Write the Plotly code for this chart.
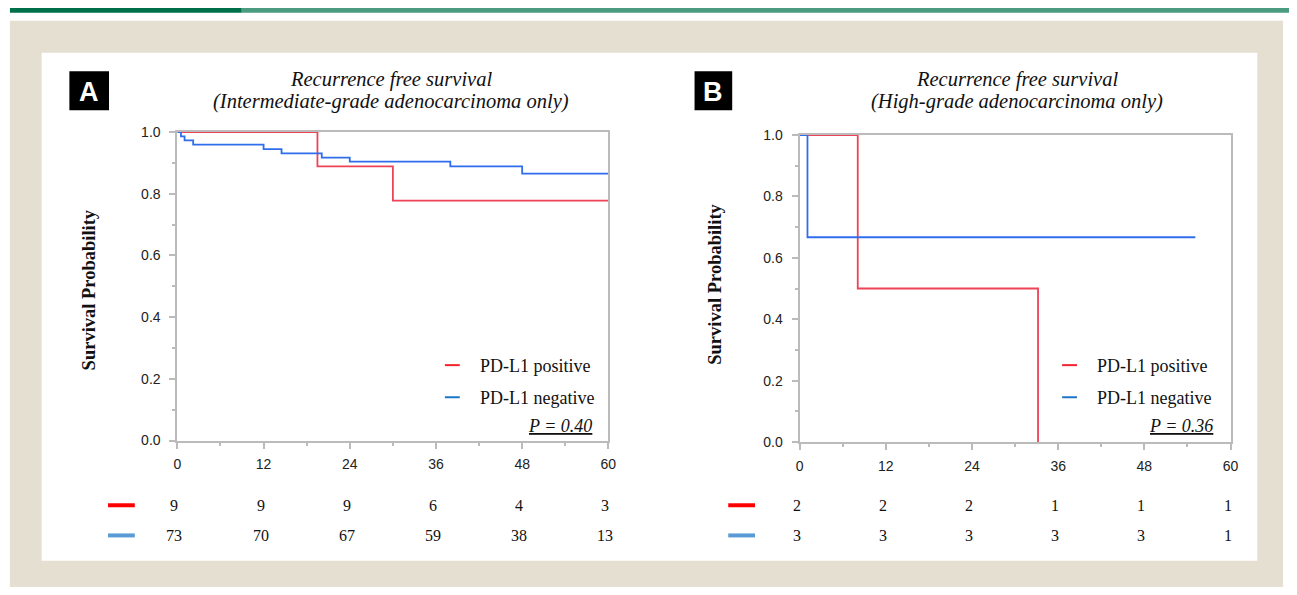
import plotly.graph_objects as go

W, H = 1297, 595

# ---------------- data ----------------
# Panel A: intermediate-grade
a_pos_t = [0, 19.5, 30.0, 60]
a_pos_s = [1.0, 0.889, 0.778, 0.778]
a_neg_t = [0, 0.5, 1.0, 2.2, 12.0, 14.5, 20.1, 24.0, 38.0, 48.0, 60]
a_neg_s = [1.0, 0.986, 0.973, 0.959, 0.945, 0.931, 0.917, 0.904, 0.889, 0.865, 0.865]
# Panel B: high-grade
b_pos_t = [0, 8.1, 33.2]
b_pos_s = [1.0, 0.5, 0.0]
b_neg_t = [0, 1.1, 55.1]
b_neg_s = [1.0, 0.667, 0.667]

risk_times = [0, 12, 24, 36, 48, 60]
a_risk_pos = [9, 9, 9, 6, 4, 3]
a_risk_neg = [73, 70, 67, 59, 38, 13]
b_risk_pos = [2, 2, 2, 1, 1, 1]
b_risk_neg = [3, 3, 3, 3, 3, 1]

x_ticks = [0, 12, 24, 36, 48, 60]
y_ticks = [0.0, 0.2, 0.4, 0.6, 0.8, 1.0]
y_ticklabels = ["0.0", "0.2", "0.4", "0.6", "0.8", "1.0"]

titles_a = ["Recurrence free survival", "(Intermediate-grade adenocarcinoma only)"]
titles_b = ["Recurrence free survival", "(High-grade adenocarcinoma only)"]
legend_labels = ["PD-L1 positive", "PD-L1 negative"]
p_a = "P = 0.40"
p_b = "P = 0.36"

# ---------------- styles ----------------
RED = "#EE4257"
BLUE = "#2F6DEA"
LEG_RED = "#F5222D"
LEG_BLUE = "#1C75C8"
RISK_RED = "#FF0000"
RISK_BLUE = "#5B9BD5"
AX = "#BBBBBB"
BEIGE = "#E5DFD2"
SERIF = "Liberation Serif, Times New Roman, serif"
SANS = "Liberation Sans, Arial, sans-serif"


def px(x):
    return x / W


def py(y):
    return 1 - y / H


fig = go.Figure()

fig.add_trace(go.Scatter(x=a_pos_t, y=a_pos_s, mode="lines", line=dict(color=RED, width=1.8, shape="hv"),
                         xaxis="x", yaxis="y", showlegend=False, hoverinfo="skip"))
fig.add_trace(go.Scatter(x=a_neg_t, y=a_neg_s, mode="lines", line=dict(color=BLUE, width=1.8, shape="hv"),
                         xaxis="x", yaxis="y", showlegend=False, hoverinfo="skip"))
fig.add_trace(go.Scatter(x=b_pos_t, y=b_pos_s, mode="lines", line=dict(color=RED, width=1.8, shape="hv"),
                         xaxis="x2", yaxis="y2", showlegend=False, hoverinfo="skip"))
fig.add_trace(go.Scatter(x=b_neg_t, y=b_neg_s, mode="lines", line=dict(color=BLUE, width=1.8, shape="hv"),
                         xaxis="x2", yaxis="y2", showlegend=False, hoverinfo="skip"))


def xax(domain, anchor):
    return dict(domain=domain, range=[0, 60], anchor=anchor, tickmode="array", tickvals=x_ticks,
                ticks="outside", ticklen=6, tickwidth=1.5, tickcolor=AX, showline=True, linecolor=AX,
                linewidth=2, mirror=True, showgrid=False, zeroline=False, ticklabelstandoff=4,
                tickfont=dict(family=SANS, size=14, color="#222"),
                minor=dict(tickmode="array", tickvals=[6, 18, 30, 42, 54], ticks="outside", ticklen=3,
                           tickcolor=AX, tickwidth=1.5, showgrid=False))


def yax(domain, anchor):
    return dict(domain=domain, range=[0, 1], anchor=anchor, tickmode="array", tickvals=y_ticks,
                ticktext=y_ticklabels, ticks="outside", ticklen=6, tickwidth=1.5, tickcolor=AX,
                showline=True, linecolor=AX, linewidth=2, mirror=True, showgrid=False, zeroline=False,
                ticklabelstandoff=6, tickfont=dict(family=SANS, size=14, color="#222"),
                minor=dict(tickmode="array", tickvals=[0.1, 0.3, 0.5, 0.7, 0.9], ticks="outside",
                           ticklen=3, tickcolor=AX, tickwidth=1.5, showgrid=False))


shapes = [
    dict(type="rect", xref="paper", yref="paper", x0=px(6), x1=px(1291), y0=py(595), y1=py(13),
         fillcolor=BEIGE, line=dict(width=0), layer="below"),
    dict(type="rect", xref="paper", yref="paper", x0=px(38), x1=px(1265), y0=py(568), y1=py(46),
         fillcolor="white", line=dict(width=0), layer="below"),
    dict(type="rect", xref="paper", yref="paper", x0=px(6), x1=px(240), y0=py(5), y1=py(0),
         fillcolor="#00704A", line=dict(width=0)),
    dict(type="rect", xref="paper", yref="paper", x0=px(240), x1=px(1297), y0=py(5), y1=py(0),
         fillcolor="#4A9B7F", line=dict(width=0)),
    # panel letter boxes
    dict(type="rect", xref="paper", yref="paper", x0=px(66), x1=px(106), y0=py(105), y1=py(65),
         fillcolor="black", line=dict(width=0)),
    dict(type="rect", xref="paper", yref="paper", x0=px(697), x1=px(735), y0=py(105), y1=py(65),
         fillcolor="black", line=dict(width=0)),
]

annotations = []


def text(x, y, s, size, family=SERIF, color="#111", xanchor="center", italic=False, bold=False, angle=0):
    if italic:
        s = "<i>" + s + "</i>"
    if bold:
        s = "<b>" + s + "</b>"
    annotations.append(dict(xref="paper", yref="paper", x=px(x), y=py(y), text=s, showarrow=False,
                            xanchor=xanchor, yanchor="middle", textangle=angle,
                            font=dict(family=family, size=size, color=color)))


# panel letters
text(86, 86, "A", 27, family=SANS, color="white", bold=True)
text(716, 86, "B", 27, family=SANS, color="white", bold=True)

# titles
text(391, 73, titles_a[0], 20.5, italic=True)
text(391, 96, titles_a[1], 20.5, italic=True)
text(1022, 73, titles_b[0], 20.5, italic=True)
text(1022, 96, titles_b[1], 20.5, italic=True)

# y titles
text(86, 290, "Survival Probability", 18.5, bold=True, angle=-90)
text(718, 284, "Survival Probability", 18.5, bold=True, angle=-90)


def legend(xl0, xl1, xt, ys, ptxt, px0, py0):
    shapes.append(dict(type="line", xref="paper", yref="paper", x0=px(xl0), x1=px(xl1), y0=py(ys[0]), y1=py(ys[0]),
                       line=dict(color=LEG_RED, width=2)))
    shapes.append(dict(type="line", xref="paper", yref="paper", x0=px(xl0), x1=px(xl1), y0=py(ys[1]), y1=py(ys[1]),
                       line=dict(color=LEG_BLUE, width=2)))
    text(xt, ys[0] + 1, legend_labels[0], 18, xanchor="left")
    text(xt, ys[1] + 1, legend_labels[1], 18, xanchor="left")
    annotations.append(dict(xref="paper", yref="paper", x=px(px0), y=py(py0), text="<i><u>" + ptxt + "</u></i>",
                            showarrow=False, xanchor="right", yanchor="middle",
                            font=dict(family=SERIF, size=18, color="#111")))


legend(445, 460, 478, [367, 400], p_a, 596, 430)
legend(1068, 1083, 1101, [367, 400], p_b, 1222, 430)


def risk(xref, l0, l1, pos, neg):
    shapes.append(dict(type="line", xref="paper", yref="paper", x0=px(l0), x1=px(l1), y0=py(511), y1=py(511),
                       line=dict(color=RISK_RED, width=4)))
    shapes.append(dict(type="line", xref="paper", yref="paper", x0=px(l0), x1=px(l1), y0=py(542), y1=py(542),
                       line=dict(color=RISK_BLUE, width=4)))
    for t, a, b in zip(risk_times, pos, neg):
        for val, yy in ((a, 511), (b, 542)):
            annotations.append(dict(xref=xref, yref="paper", x=t, y=py(yy), text=str(val), showarrow=False,
                                    xanchor="center", yanchor="middle", xshift=-3,
                                    font=dict(family=SERIF, size=16, color="#111")))


risk("x", 105, 132, a_risk_pos, a_risk_neg)
risk("x2", 731, 758, b_risk_pos, b_risk_neg)

fig.update_layout(
    autosize=True, margin=dict(l=0, r=0, t=0, b=0),
    paper_bgcolor="white", plot_bgcolor="white",
    xaxis=xax([px(175), px(610)], "y"),
    yaxis=yax([py(444.5), py(127.5)], "x"),
    xaxis2=xax([px(803), px(1238)], "y2"),
    yaxis2=yax([py(446), py(130.5)], "x2"),
    shapes=shapes, annotations=annotations,
)

fig.write_html(
    "out.html",
    config={"displayModeBar": False, "responsive": True},
    default_width="100vw",
    default_height="100vh",
    post_script=(
        "document.documentElement.style.margin='0';document.documentElement.style.padding='0';"
        "document.documentElement.style.overflow='hidden';"
        "document.body.style.margin='0';document.body.style.padding='0';document.body.style.overflow='hidden';"
        "window.dispatchEvent(new Event('resize'));"
    ),
)
